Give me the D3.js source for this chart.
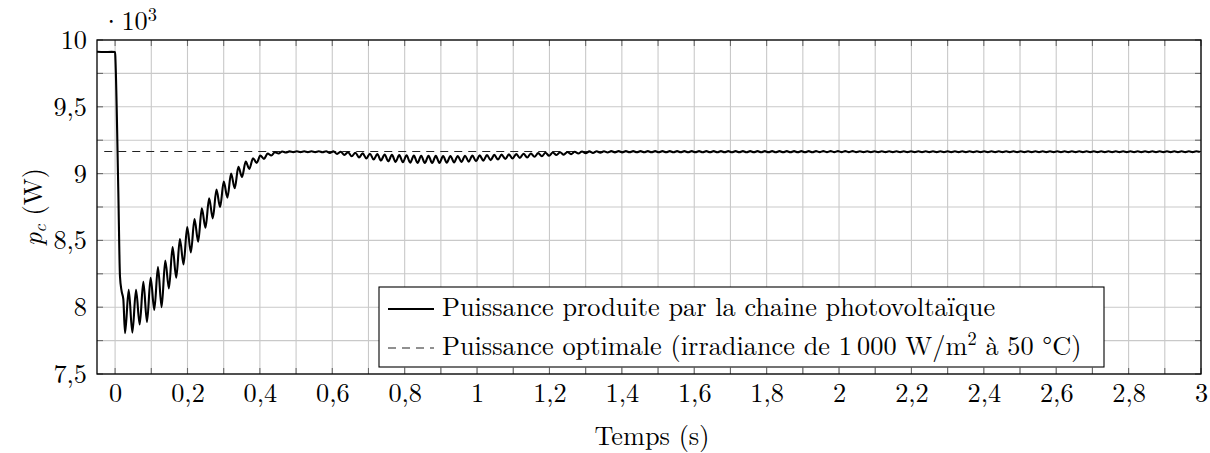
<!DOCTYPE html>
<html>
<head>
<meta charset="utf-8">
<script src="https://cdn.jsdelivr.net/npm/d3@7"></script>
<style>
  html, body { margin: 0; padding: 0; background: #fff; }
  svg { display: block; }
</style>
</head>
<body>
<svg id="chart" width="1210" height="453"></svg>
<script>
// ---------------- DATA ----------------
const xTickValues = [0, 0.2, 0.4, 0.6, 0.8, 1, 1.2, 1.4, 1.6, 1.8, 2, 2.2, 2.4, 2.6, 2.8, 3];
const yTickValues = [7.5, 8, 8.5, 9, 9.5, 10];          // ×10^3 W
const xGridValues = d3.range(0, 31).map(i => i / 10);   // every 0.1 s
const yGridValues = [7.5, 7.75, 8, 8.25, 8.5, 8.75, 9, 9.25, 9.5, 9.75, 10];

// Leading part of the produced power (step drop)
const leadTime  = [-0.05, -0.03, -0.01, 0.0, 0.001, 0.009, 0.0135, 0.018, 0.0227];
const leadPower = [9.912, 9.910, 9.911, 9.910, 9.85, 8.85, 8.23, 8.12, 8.06];

// Ripple extrema of the produced power, sampled every half period
const rippleStart = 0.0275;   // s
const rippleStep  = 0.0101;   // s (half ripple period)
const ripplePower = [
  7.805, 8.13, 7.81, 8.13, 7.87, 8.19, 7.89, 8.22, 7.98, 8.30,
  8.00, 8.35, 8.14, 8.45, 8.22, 8.51, 8.32, 8.60, 8.41, 8.66,
  8.49, 8.74, 8.595, 8.815, 8.665, 8.88, 8.75, 8.94, 8.82, 9.00,
  8.89, 9.05, 8.975, 9.09, 9.035, 9.115, 9.08, 9.135, 9.11, 9.15,
  9.135, 9.16, 9.15, 9.165, 9.158, 9.166, 9.161, 9.167, 9.161, 9.167,
  9.161, 9.167, 9.161, 9.167, 9.160, 9.167, 9.155, 9.166, 9.148, 9.164,
  9.140, 9.160, 9.130, 9.156, 9.121, 9.152, 9.113, 9.149, 9.105, 9.146,
  9.098, 9.143, 9.092, 9.140, 9.088, 9.138, 9.085, 9.137, 9.082, 9.135,
  9.080, 9.134, 9.079, 9.133, 9.079, 9.133, 9.080, 9.132, 9.082, 9.132,
  9.084, 9.132, 9.087, 9.134, 9.090, 9.135, 9.093, 9.137, 9.097, 9.138,
  9.101, 9.140, 9.105, 9.142, 9.109, 9.144, 9.113, 9.146, 9.117, 9.149,
  9.121, 9.151, 9.126, 9.153, 9.130, 9.156, 9.134, 9.158, 9.139, 9.160,
  9.142, 9.162, 9.146, 9.163, 9.150, 9.165, 9.153, 9.166, 9.155, 9.167,
  9.157, 9.167, 9.158, 9.168, 9.159, 9.168, 9.159, 9.168, 9.160, 9.168,
  9.160, 9.168, 9.160, 9.168, 9.160, 9.168, 9.160, 9.168, 9.160, 9.168,
  9.160, 9.168, 9.160, 9.168, 9.160, 9.168, 9.160, 9.168, 9.160, 9.168,
  9.160, 9.168, 9.160, 9.168, 9.160, 9.168, 9.160, 9.168, 9.160, 9.168,
  9.160, 9.168, 9.160, 9.168, 9.160, 9.168, 9.160, 9.168, 9.160, 9.168,
  9.160, 9.168, 9.160, 9.168, 9.160, 9.168, 9.160, 9.168, 9.160, 9.168,
  9.161, 9.168, 9.161, 9.168, 9.161, 9.168, 9.161, 9.168, 9.161, 9.168,
  9.161, 9.167, 9.161, 9.167, 9.161, 9.167, 9.161, 9.167, 9.161, 9.167,
  9.161, 9.167, 9.161, 9.167, 9.161, 9.167, 9.161, 9.167, 9.161, 9.167,
  9.161, 9.167, 9.161, 9.167, 9.161, 9.167, 9.161, 9.167, 9.161, 9.167,
  9.161, 9.167, 9.161, 9.167, 9.161, 9.167, 9.161, 9.167, 9.161, 9.167,
  9.161, 9.167, 9.161, 9.167, 9.161, 9.167, 9.161, 9.167, 9.161, 9.167,
  9.161, 9.167, 9.161, 9.167, 9.161, 9.167, 9.161, 9.167, 9.161, 9.167,
  9.161, 9.167, 9.161, 9.167, 9.161, 9.167, 9.161, 9.167, 9.161, 9.167,
  9.161, 9.167, 9.161, 9.167, 9.161, 9.167, 9.161, 9.167, 9.161, 9.167,
  9.161, 9.167, 9.161, 9.167, 9.161, 9.167, 9.161, 9.167, 9.161, 9.167,
  9.161, 9.167, 9.161, 9.167, 9.161
];

const optimalPower = 9.165;            // ×10^3 W
const optimalTime  = [-0.03, 3];

const legendLabels = [
  "Puissance produite par la chaine photovoltaïque",
  "Puissance optimale (irradiance de 1\u2009000 W/m|2| à 50 °C)"
];

// ---------------- LAYOUT ----------------
const FF = "'Latin Modern Roman', 'CMU Serif', 'Liberation Serif', serif";
const FONT = 26.3;
const SUP = 18.4;

const svg = d3.select("#chart").attr("font-family", FF);
const plot = { left: 97, right: 1201, top: 40, bottom: 374 };

const x = d3.scaleLinear().domain([-0.05, 3]).range([plot.left, plot.right]);
const y = d3.scaleLinear().domain([7.5, 10]).range([plot.bottom, plot.top]);

const loc = d3.formatLocale({ decimal: ",", thousands: "\u2009", grouping: [3], currency: ["", ""] });
const fmt = v => loc.format("~g")(v);

// clip
svg.append("defs").append("clipPath").attr("id", "clip")
  .append("rect").attr("x", plot.left).attr("y", plot.top)
  .attr("width", plot.right - plot.left).attr("height", plot.bottom - plot.top);

// grid
const grid = svg.append("g").attr("stroke", "#c9c9c9").attr("stroke-width", 1.1);
grid.selectAll("line.v").data(xGridValues).join("line")
  .attr("x1", d => x(d)).attr("x2", d => x(d))
  .attr("y1", plot.top).attr("y2", plot.bottom);
grid.selectAll("line.h").data(yGridValues).join("line")
  .attr("x1", plot.left).attr("x2", plot.right)
  .attr("y1", d => y(d)).attr("y2", d => y(d));

// inward ticks on all four sides
const tickG = svg.append("g").attr("stroke", "#6a6a6a").attr("stroke-width", 1.1);
const TL = 6;
xGridValues.forEach(v => {
  tickG.append("line").attr("x1", x(v)).attr("x2", x(v)).attr("y1", plot.bottom).attr("y2", plot.bottom - TL);
  tickG.append("line").attr("x1", x(v)).attr("x2", x(v)).attr("y1", plot.top).attr("y2", plot.top + TL);
});
yGridValues.forEach(v => {
  tickG.append("line").attr("y1", y(v)).attr("y2", y(v)).attr("x1", plot.left).attr("x2", plot.left + TL);
  tickG.append("line").attr("y1", y(v)).attr("y2", y(v)).attr("x1", plot.right).attr("x2", plot.right - TL);
});

// tick labels via d3 axes (lines hidden)
const xAxis = d3.axisBottom(x).tickValues(xTickValues).tickSize(0).tickPadding(9).tickFormat(fmt);
const gx = svg.append("g").attr("transform", `translate(0,${plot.bottom})`).call(xAxis);
gx.select(".domain").remove();
gx.attr("font-family", FF).attr("font-size", FONT);
gx.selectAll("text").attr("font-family", FF).attr("font-size", FONT).attr("fill", "#000");

const yAxis = d3.axisLeft(y).tickValues(yTickValues).tickSize(0).tickPadding(10).tickFormat(fmt);
const gy = svg.append("g").attr("transform", `translate(${plot.left},0)`).call(yAxis);
gy.select(".domain").remove();
gy.attr("font-family", FF).attr("font-size", FONT);
gy.selectAll("text").attr("font-family", FF).attr("font-size", FONT).attr("fill", "#000");

// data lines
const produced = leadTime.map((t, i) => [t, leadPower[i]])
  .concat(ripplePower.map((p, i) => [rippleStart + i * rippleStep, p]));

const line = d3.line().x(d => x(d[0])).y(d => y(d[1])).curve(d3.curveMonotoneX);
const dataG = svg.append("g").attr("clip-path", "url(#clip)");

dataG.append("path")
  .attr("d", d3.line().x(d => x(d[0])).y(d => y(d[1]))(optimalTime.map(t => [t, optimalPower])))
  .attr("fill", "none").attr("stroke", "#222").attr("stroke-width", 1.1)
  .attr("stroke-dasharray", "8,6");

dataG.append("path").datum(produced)
  .attr("d", line)
  .attr("fill", "none").attr("stroke", "#000").attr("stroke-width", 2.1)
  .attr("stroke-linejoin", "round");

// frame
svg.append("rect").attr("x", plot.left).attr("y", plot.top)
  .attr("width", plot.right - plot.left).attr("height", plot.bottom - plot.top)
  .attr("fill", "none").attr("stroke", "#000").attr("stroke-width", 1.3);

// ·10^3 multiplier
const mult = svg.append("text").attr("x", 101).attr("y", 30)
  .attr("font-family", FF).attr("font-size", FONT);
mult.append("tspan").text("\u00b710");
mult.append("tspan").attr("dy", -9).attr("font-size", SUP).text("3");

// y label
const yl = svg.append("text")
  .attr("transform", `translate(42,${(plot.top + plot.bottom) / 2}) rotate(-90)`)
  .attr("text-anchor", "middle").attr("font-family", FF).attr("font-size", FONT);
yl.append("tspan").attr("font-style", "italic").text("p");
yl.append("tspan").attr("font-style", "italic").attr("font-size", SUP).attr("dy", 4).text("c");
yl.append("tspan").attr("dy", -4).text(" (W)");

// x label
svg.append("text").attr("x", 652).attr("y", 445)
  .attr("text-anchor", "middle").attr("font-family", FF).attr("font-size", FONT).text("Temps (s)");

// legend
const leg = { x: 379, y: 287, w: 725, h: 80 };
const lg = svg.append("g");
lg.append("rect").attr("x", leg.x).attr("y", leg.y).attr("width", leg.w).attr("height", leg.h)
  .attr("fill", "#fff").attr("stroke", "#000").attr("stroke-width", 1.1);
const rowY = [309, 348];
lg.append("line").attr("x1", 388).attr("x2", 434).attr("y1", rowY[0]).attr("y2", rowY[0])
  .attr("stroke", "#000").attr("stroke-width", 2.1);
lg.append("line").attr("x1", 388).attr("x2", 434).attr("y1", rowY[1]).attr("y2", rowY[1])
  .attr("stroke", "#222").attr("stroke-width", 1.1).attr("stroke-dasharray", "8,6");
legendLabels.forEach((lab, i) => {
  const t = lg.append("text").attr("x", 442).attr("y", rowY[i] + 7)
    .attr("font-family", FF).attr("font-size", FONT);
  const parts = lab.split("|");
  parts.forEach((p, j) => {
    const ts = t.append("tspan").text(p);
    if (j % 2 === 1) { ts.attr("dy", -10).attr("font-size", SUP); }
    else if (j > 0) { ts.attr("dy", 10); }
  });
});
</script>
</body>
</html>
